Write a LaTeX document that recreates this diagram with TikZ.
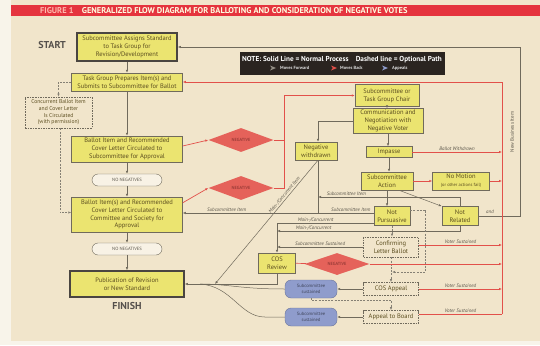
\documentclass[tikz,border=0pt]{standalone}
\usepackage{fontspec}
\setmainfont{PT Sans}
\usetikzlibrary{positioning,shapes.geometric,arrows.meta,calc}

\definecolor{pageColor}{RGB}{241,229,203}
\definecolor{marginColor}{RGB}{248,244,234}
\definecolor{bannerColor}{RGB}{229,52,62}
\definecolor{boxColor}{RGB}{235,228,112}
\definecolor{textColor}{RGB}{92,78,32}
\definecolor{lineColor}{RGB}{112,106,92}
\definecolor{backColor}{RGB}{226,80,74}
\definecolor{negColor}{RGB}{229,98,90}
\definecolor{sustColor}{RGB}{143,156,204}
\definecolor{noteColor}{RGB}{42,36,32}

\tikzset{
  stepbox/.style={draw=lineColor,fill=boxColor,text=textColor,align=center,inner sep=0pt,line width=0.5pt,font=\fontsize{6.5}{7.8}\selectfont},
  endbox/.style={stepbox,draw=noteColor!85,line width=1.6pt},
  optbox/.style={stepbox,fill=none,dash pattern=on 1.6pt off 1pt,line width=0.6pt},
  nopill/.style={draw=lineColor,rounded corners=6pt,fill=pageColor!50!white,text=lineColor!80!black,font=\fontsize{4.6}{5}\selectfont,minimum width=70pt,minimum height=12pt,inner sep=0pt},
  sustpill/.style={draw=sustColor!75!black,fill=sustColor,rounded corners=6pt,text=sustColor!45!black,align=center,font=\fontsize{4.6}{5.4}\selectfont,minimum width=52pt,minimum height=18pt,inner sep=0pt},
  negbox/.style={diamond,shape aspect=2.7,fill=negColor,text=backColor!55!black,font=\fontsize{4.4}{5}\selectfont,inner sep=0pt,minimum width=65pt,minimum height=24pt},
  fwd/.style={draw=lineColor,line width=0.5pt,-{Latex[length=3pt,width=2.4pt]}},
  back/.style={draw=backColor,line width=0.7pt,-{Latex[length=3pt,width=2.4pt]}},
  appeal/.style={draw=lineColor!85,line width=0.7pt,dash pattern=on 2pt off 1.2pt,-{Latex[length=3pt,width=2.4pt]}},
  lbl/.style={font=\fontsize{5}{6}\selectfont\itshape,text=lineColor!80!black,inner sep=1pt},
  keylbl/.style={anchor=west,text=white!85!black,font=\fontsize{4.5}{5}\selectfont\bfseries,inner sep=0pt},
  endlbl/.style={font=\fontsize{10}{12}\selectfont\bfseries,text=noteColor!80,inner sep=0pt},
}

\begin{document}
\begin{tikzpicture}[x=1pt,y=-1pt]
\path[use as bounding box,fill=marginColor] (0,0) rectangle (540,345);
\fill[pageColor] (11,0) rectangle (540,341);
\fill[bannerColor] (11,5) rectangle (540,16);
\node[anchor=west,font=\fontsize{8.4}{9}\selectfont\bfseries,inner sep=0pt] (title) at (40,10.5)
  {\textcolor{pink!90!orange}{FIGURE 1}\quad\textcolor{yellow!12!white}{GENERALIZED FLOW DIAGRAM FOR BALLOTING AND CONSIDERATION OF NEGATIVE VOTES}};

% key
\node[fill=noteColor,minimum width=205pt,minimum height=23pt,inner sep=0pt] (note) at (342,63.5) {};
\node[text=white,font=\fontsize{7.2}{8}\selectfont\bfseries,inner sep=0pt] (notetext) at ([yshift=4pt]note.center)
  {NOTE: Solid Line = Normal Process\quad Dashed line = Optional Path};
\fill[lineColor!75] (270,65.5) -- (276,68) -- (270,70.5) -- (271.8,68) -- cycle;
\node[keylbl] (fwdkey) at (280,68) {Moves Forward};
\fill[backColor] (331,65.5) -- (337,68) -- (331,70.5) -- (332.8,68) -- cycle;
\node[keylbl] (backkey) at (340,68) {Moves Back};
\fill[sustColor] (382,65.5) -- (388,68) -- (382,70.5) -- (383.8,68) -- cycle;
\node[keylbl] (appkey) at (392,68) {Appeals};

% left column
\node[endlbl] (start) at (52,45) {START};
\node[endbox,minimum width=100pt,minimum height=28pt] (assign) at (127,47) {Subcommittee Assigns Standard\\to Task Group for\\Revision/Development};
\node[stepbox,minimum width=111pt,minimum height=18pt] (prepare) at (127,82) {Task Group Prepares Item(s) and\\Submits to Subcommittee for Ballot};
\node[optbox,minimum width=67pt,minimum height=31pt,font=\fontsize{5.6}{6.7}\selectfont] (concurrent) at (58.5,112.5) {Concurrent Ballot Item\\and Cover Letter\\Is Circulated\\(with permission)};
\node[stepbox,minimum width=111pt,minimum height=26pt] (subballot) at (127,149) {Ballot Item and Recommended\\Cover Letter Circulated to\\Subcommittee for Approval};
\node[nopill] (noneg1) at (127,180) {NO NEGATIVES};
\node[stepbox,minimum width=111pt,minimum height=35pt] (socballot) at (127,214.5) {Ballot Item(s) and Recommended\\Cover Letter Circulated to\\Committee and Society for\\Approval};
\node[nopill] (noneg2) at (127,249) {NO NEGATIVES};
\node[endbox,minimum width=114pt,minimum height=26pt] (publish) at (127,284) {Publication of Revision\\or New Standard};
\node[endlbl] (finish) at (127,306) {FINISH};

% negatives and review
\node[negbox] (neg1) at (241,140) {NEGATIVE};
\node[negbox] (neg2) at (241,188) {NEGATIVE};
\node[stepbox,minimum width=64pt,minimum height=22pt] (chair) at (387,95.5) {Subcommittee or\\Task Group Chair};
\node[stepbox,minimum width=70pt,minimum height=25pt] (talk) at (388,121) {Communication and\\Negotiation with\\Negative Voter};
\node[stepbox,minimum width=46pt,minimum height=11pt] (impasse) at (389,152) {Impasse};
\node[stepbox,minimum width=42pt,minimum height=18pt] (withdrawn) at (316,151) {Negative\\withdrawn};
\node[stepbox,minimum width=52pt,minimum height=18pt] (action) at (387,181) {Subcommittee\\Action};
\node[stepbox,minimum width=57pt,minimum height=18pt] (nomotion) at (461,181) {No Motion\\{\fontsize{4.5}{5}\selectfont(or other actions fail)}};
\node[stepbox,minimum width=36pt,minimum height=19pt] (notpers) at (392,216) {Not\\Pursuasive};
\node[stepbox,minimum width=36pt,minimum height=19pt] (notrel) at (460,216) {Not\\Related};
\node[stepbox,minimum width=37pt,minimum height=20pt] (cosreview) at (277,263) {COS\\Review};
\node[negbox,minimum height=22pt] (neg3) at (337,264) {NEGATIVE};
\node[optbox,minimum width=55pt,minimum height=20pt] (confirm) at (391,247) {Confirming\\Letter Ballot};
\node[sustpill] (sust1) at (311,289) {Subcommittee\\sustained};
\node[sustpill] (sust2) at (311,317) {Subcommittee\\sustained};
\node[optbox,minimum width=55pt,minimum height=13pt] (cosappeal) at (391,289) {COS Appeal};
\node[optbox,minimum width=55pt,minimum height=13pt] (board) at (391,317) {Appeal to Board};

\coordinate (redtop) at (502,82);
\coordinate (redbot) at (502,314);
\coordinate (negjoin) at (284,188);
\coordinate (newbiz) at (520,47);
\coordinate (subjoin) at (318,197);
\coordinate (itemline) at ([yshift=3pt]notpers.west);
\coordinate (mainjoin) at (277,231);
\coordinate (diagend) at (215,284);
\coordinate (pubjoin) at (200,284);
\coordinate (appright) at (425,272);
\coordinate (appjoin) at (392,272);

% normal process
\draw[fwd] (assign) -- (prepare);
\draw[fwd] (prepare) -- (subballot);
\draw[fwd] (subballot) -- (noneg1);
\draw[fwd] (noneg1) -- (socballot);
\draw[fwd] (socballot) -- (noneg2);
\draw[fwd] (noneg2) -- (publish);
\draw[fwd] (chair.south) -- (chair.south |- talk.north);
\draw[fwd] (talk.south) -- (talk.south |- impasse.north);
\draw[fwd] (impasse.south) -- (impasse.south |- action.north);
\draw[fwd] (action.south) -- (action.south |- notpers.north);
\draw[fwd] (talk.west) -| ([xshift=2pt]withdrawn.north);
\draw[fwd] ([xshift=12pt]action.south) -- (notrel.north west);
\draw[fwd] (notrel.north) |- (subjoin) node[lbl,pos=0.9,above] {Subcommittee Item};
\draw[draw=lineColor,line width=0.5pt] ([xshift=2pt]withdrawn.south) -- ([xshift=2pt]withdrawn.south |- itemline);
\draw[fwd] (itemline) -- (itemline -| socballot.east)
  node[lbl,pos=0.12,above] {Subcommittee Item}
  node[lbl,pos=0.77,above] {Subcommittee Item};
\draw[fwd] ([xshift=2pt]withdrawn.south) -- (diagend) node[lbl,sloped,pos=0.3,above] {Main-/Concurrent Item};
\draw[fwd] ([yshift=-7pt]notpers.west) -| (cosreview.north) node[lbl,pos=0.3,above] {Main-/Concurrent};
\draw[fwd] (notrel.south) |- (mainjoin) node[lbl,pos=0.9,above] {Main-/Concurrent};
\draw[fwd] (confirm.west) -- (confirm.west -| cosreview.north) node[lbl,midway,above] {Subcommittee Sustained};
\draw[fwd] (cosreview.south) |- (publish.east);
\draw[draw=lineColor,line width=0.5pt] (sust1.west) .. controls (240,289) and (228,284) .. (pubjoin);
\draw[draw=lineColor,line width=0.5pt] (sust2.west) -- ++(-20,0) .. controls (240,317) and (232,286) .. (pubjoin);
\draw[fwd] (cosappeal) -- (sust1);
\draw[fwd] (board) -- (sust2);
\draw[fwd] (notrel.east) -| (newbiz) -- (assign.east);
\node[lbl] (andlbl) at (490,212) {and};
\node[lbl,font=\fontsize{5}{6}\selectfont,rotate=90] (newbizlbl) at (512,132) {New Business Item};

% optional paths
\draw[appeal] (prepare.west) -| (concurrent.north);
\draw[appeal] ([xshift=1.5pt]concurrent.south) |- ([yshift=2pt]socballot.west);
\draw[appeal] ([yshift=6pt]notpers.east) -| (appright) -- (appjoin);
\draw[appeal] (notpers.south) -- (notpers.south |- confirm.north);
\draw[appeal] (confirm.south) -- (cosappeal.north);
\draw[appeal] (sust1.south) -- ++(0,2) -| (board.north);

% moves back
\draw[back] ([yshift=3pt]subballot.east) -- (neg1.west);
\draw[back] ([yshift=-6pt]socballot.north east) -- (neg2.west);
\draw[back,-] (neg1.east) -- (neg1.east -| negjoin);
\draw[back] (neg2.east) -- (negjoin) |- (chair.west);
\draw[back] (redbot) -- (redtop) -- (prepare.east);
\draw[back] (impasse.east) -- (impasse.east -| redtop) node[lbl,midway,above] {Ballot Withdrawn};
\draw[back] (action) -- (nomotion);
\draw[back] (nomotion.east) -- (nomotion.east -| redtop);
\draw[back] ([yshift=2pt]confirm.east) -- ([yshift=2pt]confirm.east -| redtop) node[lbl,midway,above] {Voter Sustained};
\draw[back,-] (cosreview) -- (neg3);
\draw[back] (neg3.east) -- (neg3.east -| redtop);
\draw[back] (cosappeal.east) -- (cosappeal.east -| redtop) node[lbl,midway,above] {Voter Sustained};
\draw[back,-] ([yshift=3pt]board.east) -- (redbot) node[lbl,midway,above] {Voter Sustained};
\end{tikzpicture}
\end{document}
